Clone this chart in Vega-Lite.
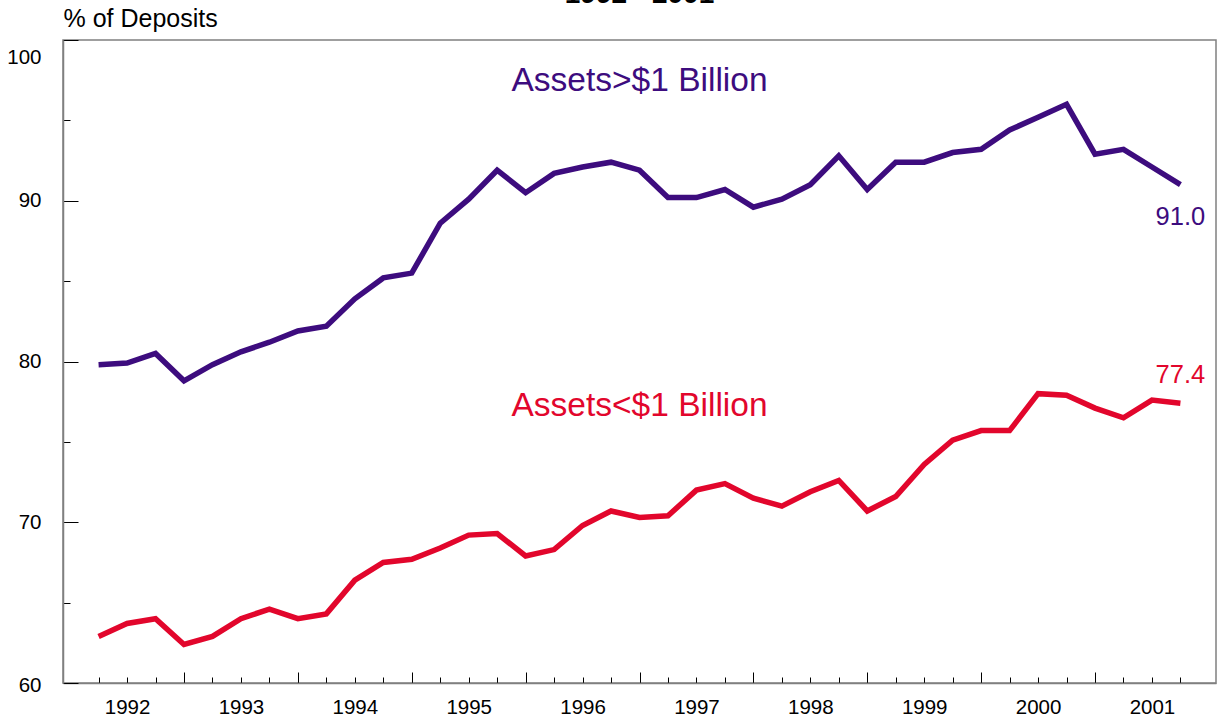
{
  "$schema": "https://vega.github.io/schema/vega-lite/v6.json",
  "width": 1153,
  "height": 643,
  "autosize": {"type": "none"},
  "padding": {"left": 63, "top": 40, "right": 9, "bottom": 40},
  "background": "white",
  "config": {
    "view": {"stroke": "#808080", "strokeWidth": 1.5},
    "font": "Liberation Sans"
  },
  "title": {
    "text": "1992 - 2001",
    "fontSize": 28,
    "fontWeight": "bold",
    "font": "Liberation Sans",
    "color": "black",
    "anchor": "middle",
    "frame": "group",
    "baseline": "alphabetic",
    "offset": -25
  },
  "data": {
    "values": [
      {"t": 0, "large": 79.8, "small": 62.9},
      {"t": 1, "large": 79.9, "small": 63.7},
      {"t": 2, "large": 80.5, "small": 64.0},
      {"t": 3, "large": 78.8, "small": 62.4},
      {"t": 4, "large": 79.8, "small": 62.9},
      {"t": 5, "large": 80.6, "small": 64.0},
      {"t": 6, "large": 81.2, "small": 64.6},
      {"t": 7, "large": 81.9, "small": 64.0},
      {"t": 8, "large": 82.2, "small": 64.3},
      {"t": 9, "large": 83.9, "small": 66.4},
      {"t": 10, "large": 85.2, "small": 67.5},
      {"t": 11, "large": 85.5, "small": 67.7},
      {"t": 12, "large": 88.6, "small": 68.4},
      {"t": 13, "large": 90.1, "small": 69.2},
      {"t": 14, "large": 91.9, "small": 69.3},
      {"t": 15, "large": 90.5, "small": 67.9},
      {"t": 16, "large": 91.7, "small": 68.3},
      {"t": 17, "large": 92.1, "small": 69.8},
      {"t": 18, "large": 92.4, "small": 70.7},
      {"t": 19, "large": 91.9, "small": 70.3},
      {"t": 20, "large": 90.2, "small": 70.4},
      {"t": 21, "large": 90.2, "small": 72.0},
      {"t": 22, "large": 90.7, "small": 72.4},
      {"t": 23, "large": 89.6, "small": 71.5},
      {"t": 24, "large": 90.1, "small": 71.0},
      {"t": 25, "large": 91.0, "small": 71.9},
      {"t": 26, "large": 92.8, "small": 72.6},
      {"t": 27, "large": 90.7, "small": 70.7},
      {"t": 28, "large": 92.4, "small": 71.6},
      {"t": 29, "large": 92.4, "small": 73.6},
      {"t": 30, "large": 93.0, "small": 75.1},
      {"t": 31, "large": 93.2, "small": 75.7},
      {"t": 32, "large": 94.4, "small": 75.7},
      {"t": 33, "large": 95.2, "small": 78.0},
      {"t": 34, "large": 96.0, "small": 77.9},
      {"t": 35, "large": 92.9, "small": 77.1},
      {"t": 36, "large": 93.2, "small": 76.5},
      {"t": 37, "large": 92.1, "small": 77.6},
      {"t": 38, "large": 91.0, "small": 77.4}
    ]
  },
  "encoding": {
    "x": {
      "field": "t",
      "type": "quantitative",
      "scale": {"domain": [-1.25, 39.25], "nice": false, "zero": false},
      "axis": {
        "values": [0, 1, 2, 3, 4, 5, 6, 7, 8, 9, 10, 11, 12, 13, 14, 15, 16, 17, 18, 19, 20, 21, 22, 23, 24, 25, 26, 27, 28, 29, 30, 31, 32, 33, 34, 35, 36, 37, 38],
        "title": null,
        "grid": false,
        "domainColor": "#808080",
        "domainWidth": 1.5,
        "tickColor": "black",
        "tickWidth": 1,
        "tickSize": {"condition": {"test": "datum.value % 4 == 3", "value": -11}, "value": -6},
        "labelExpr": "datum.value % 4 == 1 ? '' + (1992 + (datum.value - 1) / 4) : ''",
        "labelFontSize": 20.5,
        "labelColor": "black",
        "labelFont": "Liberation Sans",
        "labelPadding": 20,
        "labelFlush": false,
        "labelOverlap": false
      }
    },
    "y": {
      "field": "v",
      "type": "quantitative",
      "scale": {"domain": [60, 100], "nice": false, "zero": false},
      "axis": {
        "values": [60, 65, 70, 75, 80, 85, 90, 95, 100],
        "grid": false,
        "domainColor": "#808080",
        "domainWidth": 1.5,
        "tickColor": "black",
        "tickWidth": 1,
        "tickSize": {"condition": {"test": "datum.value % 10 == 0", "value": -15}, "value": -7},
        "labelExpr": "datum.value % 10 == 0 ? datum.label : ''",
        "labelFontSize": 20.5,
        "labelColor": "black",
        "labelFont": "Liberation Sans",
        "labelPadding": 37,
        "labelOffset": {"condition": [{"test": "datum.value == 100", "value": 17}, {"test": "datum.value == 60", "value": 2}], "value": 0},
        "labelFlush": false,
        "labelOverlap": false,
        "title": "% of Deposits",
        "titleAngle": 0,
        "titleAlign": "left",
        "titleBaseline": "alphabetic",
        "titleX": 0,
        "titleY": -14,
        "titleFontSize": 25,
        "titleFontWeight": "normal",
        "titleColor": "black",
        "titleFont": "Liberation Sans"
      }
    },
    "color": {
      "field": "series",
      "type": "nominal",
      "scale": {"domain": ["large", "small"], "range": ["#3d0c7e", "#e2062c"]},
      "legend": null
    }
  },
  "layer": [
    {
      "transform": [{"fold": ["large", "small"], "as": ["series", "v"]}],
      "mark": {"type": "line", "strokeWidth": 5.5, "strokeJoin": "miter"}
    },
    {
      "transform": [
        {"fold": ["large", "small"], "as": ["series", "v"]},
        {"filter": "datum.t == 38 && datum.series == 'large'"}
      ],
      "mark": {"type": "text", "fontSize": 25.5, "align": "center", "baseline": "alphabetic", "dy": 40},
      "encoding": {"text": {"field": "v", "type": "quantitative", "format": ".1f"}}
    },
    {
      "transform": [
        {"fold": ["large", "small"], "as": ["series", "v"]},
        {"filter": "datum.t == 38 && datum.series == 'small'"}
      ],
      "mark": {"type": "text", "fontSize": 25.5, "align": "center", "baseline": "alphabetic", "dy": -20},
      "encoding": {"text": {"field": "v", "type": "quantitative", "format": ".1f"}}
    },
    {
      "data": {
        "values": [
          {"label": "Assets>$1 Billion", "t": 19, "v": 96.8, "series": "large"},
          {"label": "Assets<$1 Billion", "t": 19, "v": 76.6, "series": "small"}
        ]
      },
      "mark": {"type": "text", "fontSize": 33.5, "align": "center", "baseline": "alphabetic"},
      "encoding": {"text": {"field": "label", "type": "nominal"}}
    }
  ]
}
